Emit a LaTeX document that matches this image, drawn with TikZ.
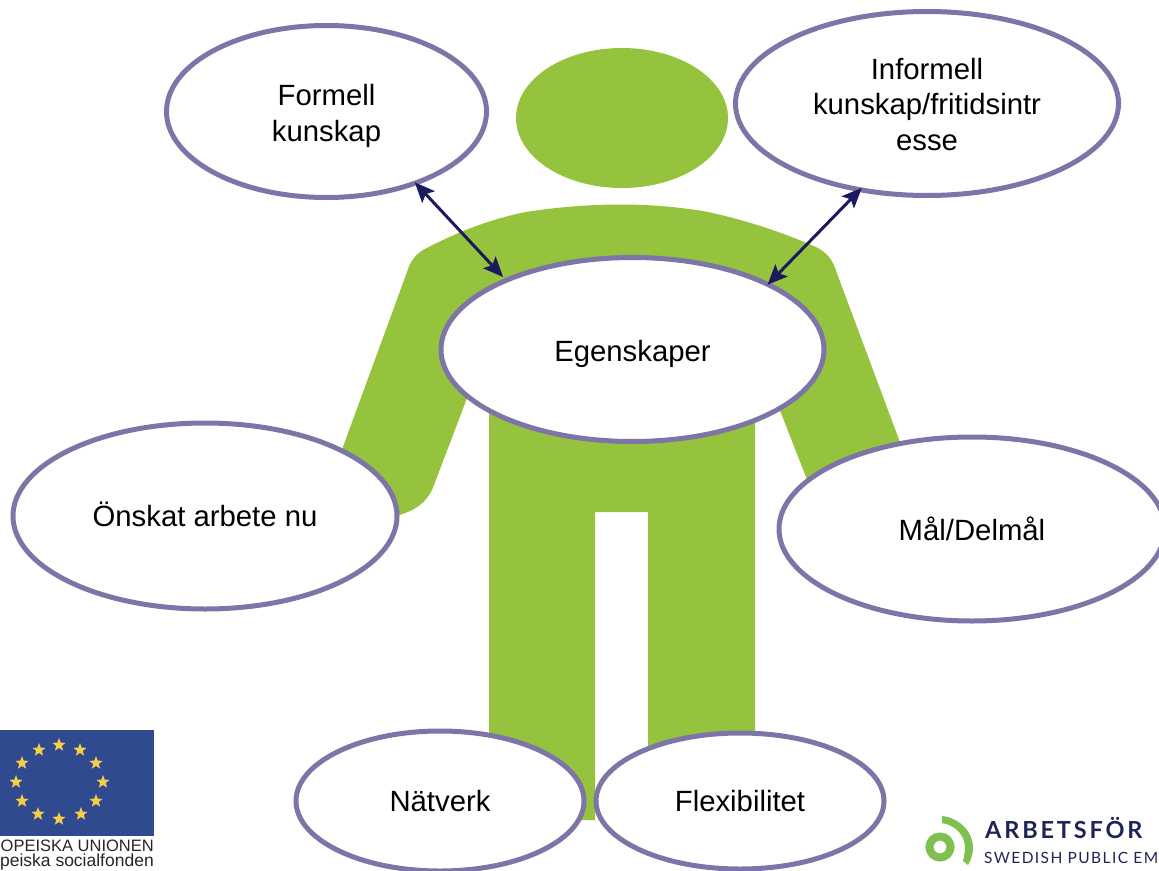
\documentclass[tikz,border=0pt]{standalone}
\usepackage{fontspec}
\setmainfont{Liberation Sans}
\newfontfamily\logofont[LetterSpace=12]{Lato Bold}
\newfontfamily\logofontb[LetterSpace=9]{Lato}
\usetikzlibrary{shapes.geometric,arrows.meta}
\definecolor{bodygreen}{HTML}{95C33D}
\definecolor{rimpurple}{HTML}{7D75A8}
\definecolor{arrownavy}{HTML}{1B1A5E}
\definecolor{flagblue}{HTML}{2F4A8E}
\definecolor{stargold}{HTML}{F4CE4A}
\definecolor{logogreen}{HTML}{7FC050}
\definecolor{logonavy}{HTML}{1E2458}
\newcommand\shiftdown[2]{\raisebox{-#1}[\height][\depth]{#2}}
\tikzset{
  bubble/.style={ellipse,draw=rimpurple,line width=5pt,fill=white,inner sep=0pt,
    align=center,font=\fontsize{29.3}{35.8}\selectfont,text=black},
  link/.style={draw=arrownavy,line width=3pt,{Stealth[length=20pt,width=17pt,inset=4pt]}-{Stealth[length=20pt,width=17pt,inset=4pt]}},
  flagstar/.style={star,star points=5,star point ratio=2.4,fill=stargold,inner sep=0pt,minimum size=14pt},
  eutext/.style={anchor=base east,inner sep=0pt,text=black!85}
}
\begin{document}
\begin{tikzpicture}[x=1pt,y=-1pt]
\useasboundingbox (0,0) rectangle (1159,870);
% figure
\fill[bodygreen] (622,118) ellipse [x radius=106,y radius=70];
\fill[bodygreen] (423,250) .. controls (455,233) and (490,219) .. (526,212)
  .. controls (558,207) and (590,204.5) .. (622,204.5)
  .. controls (650,204.5) and (680,207) .. (708,212)
  .. controls (745,220) and (782,232) .. (816,247)
  .. controls (826,252) and (832,259) .. (835,268)
  -- (901,445) -- (830,520) -- (808,482) -- (770,385) -- (755,405)
  -- (755,820) -- (648,820) -- (648,512) -- (595,512) -- (595,820) -- (489,820)
  -- (489,405) -- (472,385) -- (434,485)
  .. controls (428,502) and (415,511) .. (396,516)
  -- (340,455) -- (407,272)
  .. controls (410,262) and (415,255) .. (423,250) -- cycle;
% bubbles
\node[bubble,minimum width=320pt,minimum height=172pt] (form) at (326.5,111.5) {\shiftdown{4.5pt}{Formell}\\\shiftdown{4.5pt}{kunskap}};
\node[bubble,minimum width=383pt,minimum height=184pt] (inform) at (927,103.5) {\shiftdown{1pt}{Informell}\\\shiftdown{1pt}{kunskap/fritidsintr}\\\shiftdown{1pt}{esse}};
\node[bubble,minimum width=383pt,minimum height=184pt] (egen) at (632.5,349.5) {\shiftdown{4pt}{Egenskaper}};
\node[bubble,minimum width=384pt,minimum height=186pt] (onsk) at (205,516) {\shiftdown{-2pt}{Önskat arbete nu}};
\node[bubble,minimum width=386pt,minimum height=184pt] (mal) at (972,529) {Mål/Delmål};
\node[bubble,minimum width=288pt,minimum height=140pt] (nat) at (440,801) {Nätverk};
\node[bubble,minimum width=288pt,minimum height=136pt] (flex) at (740,801) {Flexibilitet};
% connectors
\draw[link,shorten <=-3.5pt,shorten >=2pt] (form.-39.1) -- (egen.151);
\draw[link,shorten <=-5.5pt,shorten >=-3pt] (inform.232.5) -- (egen.26.1);
% EU flag
\fill[flagblue] (0,730) rectangle (154,836);
\foreach \i/\px/\py in {a/59/745,b/80/750,c/96/763,d/103/782,e/96/801,f/81/814,g/59/819,h/38/814,i/22/801,j/16/782,k/22/763,l/39/750}
  \node[flagstar] (s\i) at (\px,\py) {};
\node[eutext,font=\fontsize{16.5}{18}\selectfont] (eua) at (154,851) {OPEISKA UNIONEN};
\node[eutext,font=\fontsize{17.5}{18}\selectfont] (eub) at (154,866.5) {peiska socialfonden};
% employment service logo
\draw[logogreen,line width=8pt] (940,847) circle [radius=10.5pt];
\fill[logogreen] (942,816) .. controls (960,818) and (973,832) .. (973,848)
  .. controls (973,854) and (971,860) .. (968,865) -- (963,861)
  .. controls (964,857) and (965,852) .. (965,848)
  .. controls (965,835) and (955,825) .. (942,823) -- cycle;
\node[anchor=base west,inner sep=0pt,text=logonavy,font=\logofont\fontsize{23.5}{26}\selectfont] (arb) at (985,838) {ARBETSFÖR};
\node[anchor=base west,inner sep=0pt,text=logonavy,font=\logofontb\fontsize{15.5}{18}\selectfont] (swe) at (984,863.5) {SWEDISH PUBLIC EM};
\end{tikzpicture}
\end{document}
